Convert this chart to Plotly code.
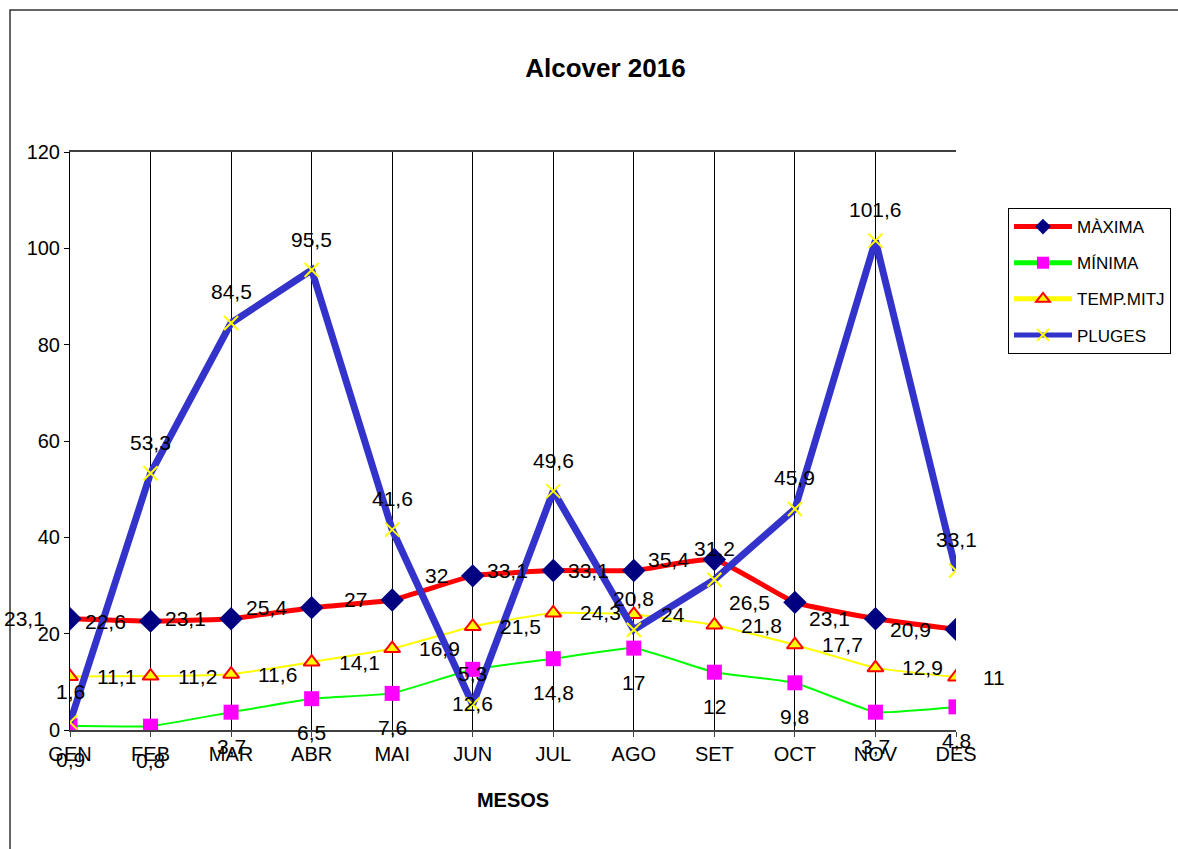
import plotly.graph_objects as go

months = ["GEN", "FEB", "MAR", "ABR", "MAI", "JUN", "JUL", "AGO", "SET", "OCT", "NOV", "DES"]
maxima = [23.1, 22.6, 23.1, 25.4, 27, 32, 33.1, 33.1, 35.4, 26.5, 23.1, 20.9]
minima = [0.9, 0.8, 3.7, 6.5, 7.6, 12.6, 14.8, 17, 12, 9.8, 3.7, 4.8]
temp_mitj = [11.1, 11.2, 11.6, 14.1, 16.9, 21.5, 24.3, 24, 21.8, 17.7, 12.9, 11]
pluges = [1.6, 53.3, 84.5, 95.5, 41.6, 5.3, 49.6, 20.8, 31.2, 45.9, 101.6, 33.1]
y_ticks = [0, 20, 40, 60, 80, 100, 120]

FONT = "Liberation Sans, Arial, sans-serif"

fig = go.Figure()
fig.add_trace(go.Scatter(
    x=months, y=maxima, name="MÀXIMA", mode="lines+markers", legendgroup="a",
    line=dict(color="#FF0000", width=5, shape="spline", smoothing=0.4),
    marker=dict(symbol="diamond", size=18, color="#000080", line=dict(width=0))))
fig.add_trace(go.Scatter(
    x=months, y=minima, name="MÍNIMA", mode="lines+markers", legendgroup="b",
    line=dict(color="#00FF00", width=2, shape="spline", smoothing=0.3),
    marker=dict(symbol="square", size=15, color="#FF00FF", line=dict(width=0))))
fig.add_trace(go.Scatter(
    x=months, y=temp_mitj, name="TEMP.MITJ", mode="lines+markers", legendgroup="c",
    line=dict(color="#FFFF00", width=2, shape="spline", smoothing=0.4),
    marker=dict(symbol="triangle-up", size=14, color="#FFFF00", line=dict(color="#FF0000", width=2))))
fig.add_trace(go.Scatter(
    x=months, y=pluges, name="PLUGES", mode="lines+markers", legendgroup="d",
    line=dict(color="#3333CC", width=7),
    marker=dict(symbol="x-thin", size=14, color="#FFFF00", line=dict(color="#FFFF00", width=2))))

def fmt(v):
    return ("%g" % v).replace(".", ",")

annotations = []
lab_font = dict(family=FONT, size=21, color="black")
for m, v in zip(months, maxima):
    annotations.append(dict(x=m, y=v, text=fmt(v), showarrow=False, xanchor="right",
                            yanchor="middle", xshift=-23, font=lab_font))
for m, v in zip(months, minima):
    annotations.append(dict(x=m, y=v, text=fmt(v), showarrow=False, xanchor="center",
                            yanchor="middle", yshift=-34, font=lab_font))
for m, v in zip(months, temp_mitj):
    annotations.append(dict(x=m, y=v, text=fmt(v), showarrow=False, xanchor="left",
                            yanchor="middle", xshift=25, font=lab_font))
for m, v in zip(months, pluges):
    annotations.append(dict(x=m, y=v, text=fmt(v), showarrow=False, xanchor="center",
                            yanchor="middle", yshift=31, font=lab_font))

fig.update_layout(
    width=1178, height=849,
    margin=dict(l=70, r=222, t=152, b=119, autoexpand=False),
    paper_bgcolor="white", plot_bgcolor="white",
    font=dict(family=FONT, color="black"),
    title=dict(text="<b>Alcover 2016</b>", x=0.514, xanchor="center", y=1 - 68 / 849,
               yanchor="middle", font=dict(family=FONT, size=26, color="black")),
    xaxis=dict(
        type="category", range=[0, len(months) - 1], showgrid=True, gridcolor="black", gridwidth=1,
        showline=True, linecolor="#404040", linewidth=2, mirror=True,
        ticks="outside", ticklen=5, tickcolor="#404040",
        tickfont=dict(family=FONT, size=20, color="black"),
        title=dict(text="<b>MESOS</b>", font=dict(family=FONT, size=20, color="black"), standoff=29),
        zeroline=False),
    yaxis=dict(
        range=[0, 120], tickvals=y_ticks, showgrid=False, showline=True, linecolor="black",
        linewidth=1, ticks="outside", ticklen=5, tickcolor="black", zeroline=False,
        tickfont=dict(family=FONT, size=20, color="black")),
    legend=dict(
        x=1.0587, y=0.903, xanchor="left", yanchor="top", bordercolor="black", borderwidth=1,
        bgcolor="white", font=dict(family=FONT, size=17, color="black"),
        tracegroupgap=11, itemwidth=58, itemsizing="constant"),
    annotations=annotations,
    shapes=[dict(type="rect", xref="paper", yref="paper", x0=-0.0677, x1=1.4, y0=-0.4,
                 y1=1.2457, line=dict(color="#333333", width=1.5), layer="below")],
)

fig.write_html("out.html", config={"displayModeBar": False},
               post_script="document.body.style.margin='0px';")
